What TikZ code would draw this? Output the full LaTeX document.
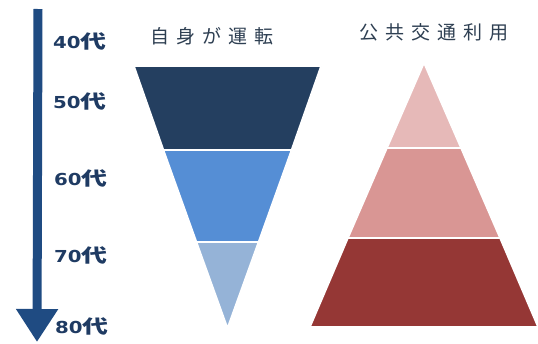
\documentclass[tikz,border=0pt]{standalone}
\usepackage{fontspec}
\usepackage{graphicx}
\setmainfont{DejaVu Sans}
\newfontfamily\jpfont{Noto Sans CJK JP}
\newfontfamily\jpbold{Noto Sans CJK JP Bold}
\usetikzlibrary{arrows.meta}
\definecolor{navy}{HTML}{243F60}
\definecolor{midblue}{HTML}{558ED5}
\definecolor{lightblue}{HTML}{95B3D7}
\definecolor{arrowblue}{HTML}{1F4B82}
\definecolor{labelblue}{HTML}{1F3B63}
\definecolor{titlegray}{HTML}{2E3F52}
\definecolor{pinklight}{HTML}{E6B9B8}
\definecolor{pinkmid}{HTML}{D99694}
\definecolor{darkred}{HTML}{953735}
\tikzset{
  band/.style={draw=white, line width=1.6pt, line join=miter},
  agelabel/.style={anchor=west, inner sep=0pt, text=labelblue, font=\fontsize{16.5}{16.5}\selectfont\bfseries},
  title/.style={inner sep=0pt, text=titlegray, font=\fontsize{19}{19}\jpfont},
}
\newcommand{\age}[1]{\scalebox{1.2}[1]{#1}\scalebox{1.4}[1]{\fontsize{18.5}{18.5}\jpbold 代}}
\newcommand{\tsp}{\hspace{7pt}}
\begin{document}
\begin{tikzpicture}[x=1pt,y=-1pt]
\useasboundingbox (0,0) rectangle (538,343);
% scale arrow
\coordinate (atop) at (38,9);
\coordinate (abot) at (37,342);
\draw[arrowblue, line width=9pt, -{Triangle[width=40pt,length=33pt]}] (atop) -- (abot);
% age labels
\node[agelabel] (l40) at (53,41) {\age{40}};
\node[agelabel] (l50) at (53,101) {\age{50}};
\node[agelabel] (l60) at (54,178) {\age{60}};
\node[agelabel] (l70) at (54,255) {\age{70}};
\node[agelabel] (l80) at (55,326) {\age{80}};
% titles
\node[title] (t1) at (212,36) {自\tsp 身\tsp が\tsp 運\tsp 転};
\node[title] (t2) at (434,32) {公\tsp 共\tsp 交\tsp 通\tsp 利\tsp 用};
% funnel
\fill[navy, band] (134,66) -- (321,66) -- (291.5,150) -- (163.5,150) -- cycle;
\fill[midblue, band] (163.5,150) -- (291.5,150) -- (258.5,242) -- (196.5,242) -- cycle;
\fill[lightblue, band] (196.5,242) -- (258.5,242) -- (227.5,328) -- cycle;
% pyramid
\fill[pinklight, band] (424,63) -- (461,148) -- (387,148) -- cycle;
\fill[pinkmid, band] (387,148) -- (461,148) -- (500,238) -- (348,238) -- cycle;
\fill[darkred, band] (348,238) -- (500,238) -- (538,327) -- (310,327) -- cycle;
\end{tikzpicture}
\end{document}
